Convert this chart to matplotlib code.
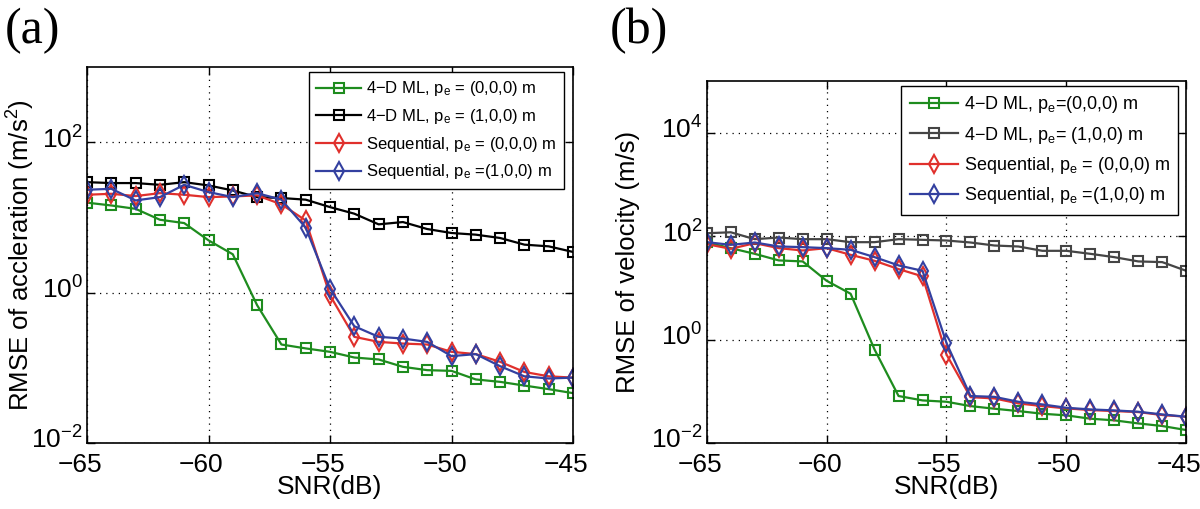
import matplotlib
matplotlib.use("Agg")
import matplotlib.pyplot as plt
from matplotlib.ticker import NullLocator, FixedLocator
from matplotlib.transforms import ScaledTranslation

plt.rcParams['font.family'] = ['Liberation Sans', 'DejaVu Sans']
plt.rcParams['mathtext.fontset'] = 'custom'
plt.rcParams['mathtext.rm'] = 'Liberation Sans'
plt.rcParams['mathtext.it'] = 'Liberation Sans:italic'
plt.rcParams['mathtext.bf'] = 'Liberation Sans:bold'

snr = list(range(-65, -44))

# Panel (a): RMSE of acceleration
acc_ml0 = [15.7, 14.4, 13.0, 9.3, 8.4, 4.95, 3.23, 0.68, 0.204, 0.181, 0.163,
           0.137, 0.129, 0.103, 0.093, 0.091, 0.070, 0.065, 0.058, 0.052, 0.046]
acc_ml1 = [29.4, 28.6, 28.6, 27.1, 29.4, 26.6, 22.8, 18.6, 18.1, 17.2, 13.7,
           11.2, 8.08, 8.67, 7.0, 6.2, 5.89, 5.32, 4.34, 4.12, 3.47]
acc_seq0 = [20.0, 20.6, 19.2, 21.0, 20.0, 18.6, 19.0, 19.6, 14.9, 9.1, 0.92,
            0.258, 0.221, 0.210, 0.204, 0.163, 0.152, 0.120, 0.088, 0.077, 0.074]
acc_seq1 = [23.3, 24.0, 16.8, 18.6, 27.1, 21.7, 18.6, 21.0, 17.2, 7.3, 1.13,
            0.357, 0.258, 0.245, 0.221, 0.143, 0.152, 0.105, 0.077, 0.072, 0.074]

# Panel (b): RMSE of velocity
vel_ml0 = [75.5, 58.7, 45.6, 34.0, 32.5, 13.7, 7.7, 0.64, 0.081, 0.0666, 0.0627,
           0.0517, 0.046, 0.0414, 0.0368, 0.0342, 0.0295, 0.0274, 0.0239, 0.0213, 0.0178]
vel_ml1 = [114, 119, 87.5, 94.2, 87.5, 87.5, 76.6, 76.6, 87.5, 85, 82.5,
           75.5, 66, 63.2, 52.1, 52.1, 45.6, 39.3, 32.5, 31.5, 21.4]
vel_seq0 = [70, 57, 73.3, 58.7, 52.9, 58.7, 43.6, 33.4, 23.1, 16.7, 0.514,
            0.077, 0.0727, 0.0582, 0.0517, 0.0467, 0.0433, 0.0414, 0.0396, 0.0347, 0.0322]
vel_seq1 = [76.6, 68, 75.5, 63.2, 61.4, 58.7, 54.5, 39.3, 27.2, 21.4, 0.86,
            0.081, 0.078, 0.0627, 0.0557, 0.048, 0.0446, 0.0427, 0.0402, 0.0357, 0.0322]

xtick_vals = [-65, -60, -55, -50, -45]
xtick_labels = ['\u221265', '\u221260', '\u221255', '\u221250', '\u221245']

labels_a = ["4\u2212D ML, p$_\\mathrm{e}$ = (0,0,0) m",
            "4\u2212D ML, p$_\\mathrm{e}$ = (1,0,0) m",
            "Sequential, p$_\\mathrm{e}$ = (0,0,0) m",
            "Sequential, p$_\\mathrm{e}$ =(1,0,0) m"]
labels_b = ["4\u2212D ML, p$_\\mathrm{e}$=(0,0,0) m",
            "4\u2212D ML, p$_\\mathrm{e}$= (1,0,0) m",
            "Sequential, p$_\\mathrm{e}$ = (0,0,0) m",
            "Sequential, p$_\\mathrm{e}$ =(1,0,0) m"]

GREEN = '#1e8c1e'
BLACK = '#000000'
GRAY = '#454545'
RED = '#e0302c'
BLUE = '#3340a0'

fig = plt.figure(figsize=(12, 5.09), dpi=100)
axa = fig.add_axes([0.0725, 0.1297, 0.4050, 0.7387])
axb = fig.add_axes([0.589, 0.1297, 0.3995, 0.711])


def draw(ax, series, colors, markers, labels, ylim, yticks, ylabel, bbox,
         legsize, ylab_x):
    for y, c, m, lab in zip(series, colors, markers, labels):
        ms = 7 if m == 's' else 9
        ax.plot(snr, y, color=c, marker=m, markersize=ms, markerfacecolor='none',
                markeredgecolor=c, markeredgewidth=1.5, linewidth=1.6, label=lab)
    ax.set_yscale('log')
    ax.set_xlim(-65, -45)
    ax.set_ylim(*ylim)
    ax.yaxis.set_major_locator(FixedLocator(yticks))
    ax.yaxis.set_minor_locator(NullLocator())
    ax.set_xticks(xtick_vals)
    ax.set_xticklabels(xtick_labels)
    ax.grid(True, which='major', linestyle=(0, (1, 4)), color='k', linewidth=0.9)
    ax.tick_params(direction='in', which='both', top=True, right=True,
                   labelsize=19, length=6, width=1)
    ax.tick_params(axis='x', pad=7)
    ax.tick_params(axis='y', pad=3)
    for s in ax.spines.values():
        s.set_linewidth(1.2)
    ax.set_xlabel('SNR(dB)', fontsize=19, labelpad=-1)
    ax.set_ylabel(ylabel, fontsize=18.5)
    ax.yaxis.set_label_coords(ylab_x, 0.5)
    leg = ax.legend(loc='upper right', bbox_to_anchor=bbox, borderaxespad=0,
                    fontsize=legsize, fancybox=False, framealpha=1, edgecolor='k',
                    handlelength=2.7, handletextpad=0.3, labelspacing=0.52,
                    borderpad=0.45)
    leg.get_frame().set_linewidth(1.0)


draw(axa, [acc_ml0, acc_ml1, acc_seq0, acc_seq1], [GREEN, BLACK, RED, BLUE],
     ['s', 's', 'd', 'd'], labels_a, (1e-2, 1e3), [1e-2, 1e0, 1e2],
     'RMSE of accleration (m/s$^2$)', (0.982, 0.987), 12, -0.103)
draw(axb, [vel_ml0, vel_ml1, vel_seq0, vel_seq1], [GREEN, GRAY, RED, BLUE],
     ['s', 's', 'd', 'd'], labels_b, (1e-2, 1e5), [1e-2, 1e0, 1e2, 1e4],
     'RMSE of velocity (m/s)', (0.983, 0.986), 13, -0.140)

fig.text(0.004, 0.985, '(a)', family='Liberation Serif', fontsize=36, va='top', ha='left')
fig.text(0.508, 0.985, '(b)', family='Liberation Serif', fontsize=36, va='top', ha='left')

# MATLAB-like label placement: x tick labels sit slightly left of their ticks,
# y tick labels have their base digits centred on the tick.
fig.canvas.draw()
xoff = ScaledTranslation(-7 / 100, 0, fig.dpi_scale_trans)
yoff = ScaledTranslation(0, 5 / 100, fig.dpi_scale_trans)
for ax in (axa, axb):
    for t in ax.xaxis.get_major_ticks():
        t.label1.set_transform(t.label1.get_transform() + xoff)
    for t in ax.yaxis.get_major_ticks():
        t.label1.set_transform(t.label1.get_transform() + yoff)

fig.savefig('out.png', dpi=100)
